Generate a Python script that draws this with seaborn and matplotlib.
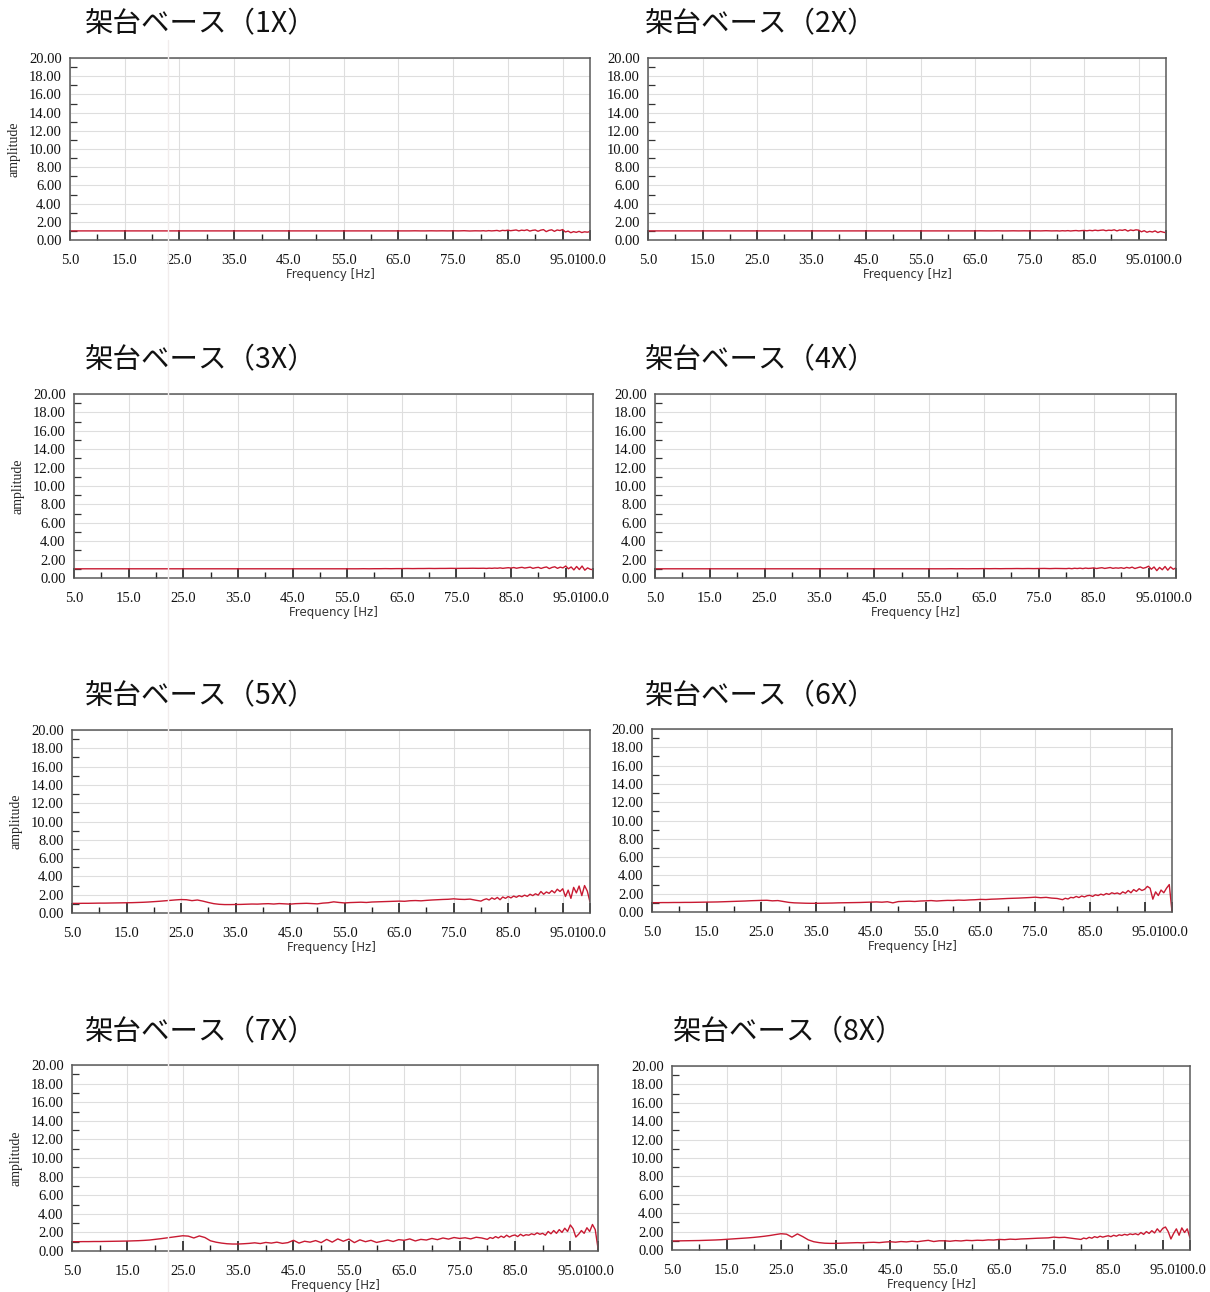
#Libraries
import numpy as np
import seaborn as sns
import matplotlib.pyplot as plt
from matplotlib.ticker import FixedLocator, FixedFormatter
from matplotlib.lines import Line2D

#Data
#frequency grid: 1 Hz steps up to 79 Hz, then 0.5 Hz steps to 100 Hz
freq = np.concatenate([np.arange(5, 80, 1.0), np.arange(80, 100.01, 0.5)])

titles = ["架台ベース（1X）", "架台ベース（2X）", "架台ベース（3X）", "架台ベース（4X）",
          "架台ベース（5X）", "架台ベース（6X）", "架台ベース（7X）", "架台ベース（8X）"]

amp_1x = [1.00, 1.00, 1.00, 1.00, 1.00, 1.00, 1.00, 1.00, 1.00, 1.00,
          1.00, 1.00, 1.00, 1.00, 1.00, 1.00, 1.00, 1.00, 1.00, 1.00,
          1.00, 1.00, 1.00, 1.00, 1.00, 1.00, 1.00, 1.00, 1.00, 1.00,
          1.00, 1.00, 1.00, 1.00, 1.00, 1.00, 1.00, 1.00, 1.00, 1.00,
          1.00, 1.00, 1.00, 1.00, 1.00, 1.00, 1.00, 1.00, 1.00, 1.00,
          1.00, 1.00, 1.00, 1.00, 1.00, 1.00, 1.00, 1.00, 1.00, 1.00,
          1.00, 1.00, 1.00, 1.01, 1.00, 1.00, 1.01, 1.00, 1.01, 1.00,
          1.01, 1.00, 1.02, 0.99, 1.01,
          1.00, 1.02, 0.99, 1.03, 1.00, 1.02, 1.05, 0.98, 1.06, 1.03,
          1.08, 1.02, 1.06, 1.10, 1.00, 1.08, 1.04, 1.12, 0.98, 1.06,
          1.10, 0.96, 1.08, 1.14, 0.92, 1.06, 1.12, 0.95, 1.10, 1.04,
          1.15, 0.88, 0.98, 0.80, 0.92, 0.84, 0.95, 0.82, 0.90, 0.86,
          0.92]

amp_2x = [1.00, 1.00, 1.00, 1.00, 1.00, 1.00, 1.00, 1.00, 1.00, 1.00,
          1.00, 1.00, 1.00, 1.00, 1.00, 1.00, 1.00, 1.00, 1.00, 1.00,
          1.00, 1.00, 1.00, 1.00, 1.00, 1.00, 1.00, 1.00, 1.00, 1.00,
          1.00, 1.00, 1.00, 1.00, 1.00, 1.00, 1.00, 1.00, 1.00, 1.00,
          1.00, 1.00, 1.00, 1.00, 1.00, 1.00, 1.00, 1.00, 1.00, 1.00,
          1.00, 1.00, 1.00, 1.00, 1.00, 1.00, 1.00, 1.00, 1.00, 1.00,
          1.00, 1.01, 1.00, 1.00, 1.01, 1.00, 1.00, 1.01, 1.00, 1.01,
          1.00, 1.01, 1.00, 1.02, 1.00,
          1.01, 0.99, 1.02, 1.00, 1.03, 0.99, 1.02, 1.04, 1.00, 1.03,
          1.05, 1.01, 1.06, 1.02, 1.08, 1.03, 1.07, 1.10, 1.02, 1.08,
          1.05, 1.12, 1.00, 1.10, 1.06, 1.14, 0.98, 1.10, 1.04, 1.12,
          1.08, 0.90, 1.02, 0.85, 0.95, 0.88, 1.00, 0.82, 0.94, 0.86,
          0.80]

amp_3x = [1.00, 1.00, 1.00, 1.00, 1.00, 1.00, 1.00, 1.00, 1.00, 1.00,
          1.00, 1.00, 1.00, 1.00, 1.00, 1.00, 1.00, 1.00, 1.00, 1.00,
          1.00, 1.00, 1.00, 1.00, 1.00, 1.00, 1.00, 1.00, 1.00, 1.00,
          1.00, 1.00, 1.00, 1.00, 1.00, 1.00, 1.00, 1.00, 1.00, 1.00,
          1.00, 1.00, 1.00, 1.00, 1.00, 1.00, 1.00, 1.00, 1.00, 1.00,
          1.00, 1.00, 1.00, 1.01, 1.00, 1.01, 1.01, 1.02, 1.01, 1.02,
          1.02, 1.03, 1.02, 1.03, 1.03, 1.04, 1.03, 1.04, 1.04, 1.05,
          1.04, 1.05, 1.05, 1.06, 1.05,
          1.06, 1.04, 1.07, 1.05, 1.08, 1.06, 1.10, 1.05, 1.09, 1.12,
          1.08, 1.14, 1.06, 1.12, 1.16, 1.08, 1.13, 1.18, 1.05, 1.12,
          1.16, 1.04, 1.14, 1.20, 1.02, 1.15, 1.22, 1.05, 1.18, 1.10,
          1.30, 1.00, 1.20, 0.88, 1.25, 0.92, 1.30, 0.85, 1.10, 0.95,
          0.90]

amp_4x = [1.00, 1.00, 1.00, 1.00, 1.00, 1.00, 1.00, 1.00, 1.00, 1.00,
          1.00, 1.00, 1.00, 1.00, 1.00, 1.00, 1.00, 1.00, 1.00, 1.00,
          1.00, 1.00, 1.00, 1.00, 1.00, 1.00, 1.00, 1.00, 1.00, 1.00,
          1.00, 1.00, 1.00, 1.00, 1.00, 1.00, 1.00, 1.00, 1.00, 1.00,
          1.00, 1.00, 1.00, 1.00, 1.00, 1.00, 1.00, 1.00, 1.00, 1.00,
          1.00, 1.00, 1.00, 1.00, 1.01, 1.00, 1.01, 1.00, 1.01, 1.01,
          1.02, 1.01, 1.02, 1.01, 1.02, 1.02, 1.03, 1.02, 1.03, 1.02,
          1.03, 1.04, 1.02, 1.04, 1.03,
          1.02, 1.05, 1.01, 1.06, 1.03, 1.07, 1.02, 1.08, 1.04, 1.06,
          1.10, 1.03, 1.08, 1.12, 1.04, 1.09, 1.14, 1.05, 1.10, 1.07,
          1.12, 1.04, 1.15, 1.08, 1.18, 1.03, 1.12, 1.20, 1.06, 1.14,
          1.28, 0.95, 1.20, 0.80, 1.15, 0.90, 1.25, 0.85, 1.20, 0.95,
          1.10]

amp_5x = [1.05, 1.05, 1.06, 1.06, 1.07, 1.08, 1.08, 1.09, 1.10, 1.11,
          1.12, 1.13, 1.15, 1.17, 1.20, 1.24, 1.28, 1.33, 1.38, 1.43,
          1.47, 1.45, 1.35, 1.42, 1.30, 1.15, 1.02, 0.95, 0.92, 0.92,
          0.93, 0.94, 0.96, 0.98, 0.97, 1.00, 1.02, 0.98, 1.03, 1.00,
          0.97, 1.02, 1.04, 1.06, 1.03, 1.00, 1.08, 1.12, 1.22, 1.15,
          1.10, 1.14, 1.16, 1.18, 1.15, 1.20, 1.22, 1.24, 1.26, 1.28,
          1.30, 1.28, 1.34, 1.36, 1.33, 1.38, 1.42, 1.45, 1.48, 1.50,
          1.55, 1.50, 1.48, 1.52, 1.40,
          1.30, 1.45, 1.55, 1.42, 1.65, 1.50, 1.70, 1.45, 1.75, 1.60,
          1.80, 1.65, 1.85, 1.72, 1.90, 1.78, 1.95, 1.82, 2.05, 1.90,
          2.10, 1.95, 2.35, 2.05, 2.30, 2.15, 2.45, 2.20, 2.60, 2.35,
          2.65, 1.80, 2.50, 1.60, 2.80, 2.20, 2.95, 1.90, 3.00, 2.40,
          1.20]

amp_6x = [1.02, 1.02, 1.03, 1.03, 1.04, 1.04, 1.05, 1.05, 1.06, 1.07,
          1.08, 1.09, 1.10, 1.12, 1.14, 1.16, 1.18, 1.20, 1.23, 1.25,
          1.27, 1.28, 1.22, 1.25, 1.15, 1.05, 1.00, 0.98, 0.96, 0.95,
          0.95, 0.96, 0.97, 0.98, 1.00, 1.01, 1.02, 1.03, 1.04, 1.06,
          1.08, 1.10, 1.07, 1.12, 1.00, 1.14, 1.16, 1.18, 1.15, 1.20,
          1.22, 1.25, 1.20, 1.24, 1.27, 1.26, 1.30, 1.28, 1.32, 1.34,
          1.38, 1.36, 1.40, 1.42, 1.45, 1.48, 1.50, 1.52, 1.55, 1.58,
          1.62, 1.56, 1.60, 1.52, 1.48,
          1.35, 1.50, 1.42, 1.60, 1.55, 1.70, 1.58, 1.75, 1.65, 1.78,
          1.82, 1.70, 1.88, 1.80, 1.95, 1.85, 2.02, 1.92, 2.10, 2.00,
          2.08, 1.95, 2.20, 2.05, 2.35, 2.10, 2.45, 2.25, 2.55, 2.35,
          2.48, 2.80, 2.60, 1.40, 2.20, 1.80, 2.40, 2.10, 2.60, 3.00,
          0.05]

amp_7x = [1.00, 1.00, 1.01, 1.01, 1.02, 1.02, 1.03, 1.04, 1.05, 1.06,
          1.07, 1.09, 1.11, 1.14, 1.18, 1.25, 1.32, 1.40, 1.48, 1.56,
          1.64, 1.60, 1.40, 1.62, 1.45, 1.10, 0.95, 0.85, 0.78, 0.75,
          0.75, 0.78, 0.82, 0.88, 0.80, 0.92, 0.85, 0.95, 0.82, 0.90,
          1.15, 0.85, 1.05, 0.95, 1.12, 0.90, 1.25, 0.95, 1.30, 1.05,
          1.28, 0.90, 1.20, 1.00, 1.15, 0.92, 1.05, 1.18, 1.02, 1.22,
          1.15, 1.30, 1.08, 1.25, 1.18, 1.35, 1.22, 1.40, 1.28, 1.45,
          1.35, 1.42, 1.30, 1.48, 1.40,
          1.25, 1.45, 1.35, 1.55, 1.40, 1.60, 1.45, 1.70, 1.50, 1.65,
          1.72, 1.55, 1.80, 1.62, 1.75, 1.70, 1.85, 1.75, 1.95, 1.80,
          1.90, 1.70, 2.10, 1.85, 2.20, 1.90, 2.30, 2.00, 2.45, 2.10,
          2.80, 2.40, 1.50, 1.80, 2.20, 1.90, 2.50, 2.10, 2.85, 2.30,
          0.30]

amp_8x = [0.98, 0.99, 1.00, 1.01, 1.02, 1.03, 1.05, 1.07, 1.09, 1.12,
          1.16, 1.20, 1.24, 1.28, 1.32, 1.37, 1.43, 1.50, 1.58, 1.68,
          1.77, 1.72, 1.40, 1.75, 1.45, 1.10, 0.90, 0.80, 0.74, 0.72,
          0.72, 0.74, 0.76, 0.78, 0.80, 0.78, 0.82, 0.84, 0.80, 0.86,
          0.90, 0.85, 0.92, 0.88, 0.95, 0.90, 0.98, 1.05, 0.92, 1.00,
          1.00, 0.95, 1.02, 0.98, 1.05, 1.02, 1.06, 1.04, 1.10, 1.08,
          1.15, 1.12, 1.18, 1.15, 1.20, 1.22, 1.25, 1.28, 1.30, 1.32,
          1.40, 1.35, 1.38, 1.30, 1.22,
          1.15, 1.30, 1.22, 1.38, 1.28, 1.45, 1.35, 1.50, 1.40, 1.48,
          1.55, 1.45, 1.60, 1.50, 1.65, 1.58, 1.70, 1.62, 1.75, 1.68,
          1.77, 1.65, 1.90, 1.70, 2.00, 1.80, 2.10, 1.85, 2.30, 1.95,
          2.35, 2.50, 2.00, 1.20, 1.80, 2.30, 1.60, 2.40, 1.90, 2.30,
          1.30]

amps = [amp_1x, amp_2x, amp_3x, amp_4x, amp_5x, amp_6x, amp_7x, amp_8x]

#Layout (pixel boxes: left, top, right, bottom) and title anchors
W, H = 1210, 1292
boxes = [(70, 58, 590, 240), (648, 58, 1166, 240),
         (74, 394, 593, 578), (655, 394, 1176, 578),
         (72, 730, 590, 913), (652, 729, 1172, 912),
         (72, 1065, 598, 1251), (672, 1066, 1190, 1250)]
title_pos = [(85, 24), (645, 24), (85, 360), (645, 360),
             (85, 696), (645, 696), (85, 1032), (673, 1032)]

xticks = [5, 15, 25, 35, 45, 55, 65, 75, 85, 95, 100]
xlabels = ["5.0", "15.0", "25.0", "35.0", "45.0", "55.0", "65.0", "75.0", "85.0", "95.0", "100.0"]
yticks = [0, 2, 4, 6, 8, 10, 12, 14, 16, 18, 20]
ylabels = ["%.2f" % v for v in yticks]

#Style
sns.set_style("white")
plt.rcParams['font.family'] = ['Liberation Serif', 'DejaVu Serif']

line_color = "#c81a32"
grid_color = "#dedede"
frame_color = "#5a5a5a"

fig = plt.figure(figsize=(W / 100, H / 100), dpi=100)

for i, (box, vals) in enumerate(zip(boxes, amps)):
    l, t, r, b = box
    ax = fig.add_axes([l / W, 1 - b / H, (r - l) / W, (b - t) / H])
    sns.lineplot(x=freq, y=vals, ax=ax, color=line_color, linewidth=1.0)

    ax.set_xlim(5, 100)
    ax.set_ylim(0, 20)

    ax.xaxis.set_major_locator(FixedLocator(xticks))
    ax.xaxis.set_major_formatter(FixedFormatter(xlabels))
    ax.xaxis.set_minor_locator(FixedLocator([10, 20, 30, 40, 50, 60, 70, 80, 90]))
    ax.yaxis.set_major_locator(FixedLocator(yticks))
    ax.yaxis.set_major_formatter(FixedFormatter(ylabels))
    ax.yaxis.set_minor_locator(FixedLocator([1, 3, 5, 7, 9, 11, 13, 15, 17, 19]))

    ax.tick_params(axis="x", which="major", direction="in", length=7, width=1.2,
                   color="#222222", labelsize=10.5, pad=10, bottom=True,
                   labelcolor="#111111")
    ax.tick_params(axis="x", which="minor", direction="in", length=4, width=1.0,
                   color="#222222", bottom=True)
    ax.tick_params(axis="y", which="major", direction="in", length=0,
                   labelsize=10.5, pad=6, left=True, labelcolor="#111111")
    ax.tick_params(axis="y", which="minor", direction="in", length=5, width=0.9,
                   color="#333333", left=True)

    ax.grid(True, which="major", color=grid_color, linewidth=0.8)
    ax.set_axisbelow(True)
    for s in ax.spines.values():
        s.set_color(frame_color)
        s.set_linewidth(1.1)

    ax.set_xlabel("Frequency [Hz]", family=["DejaVu Sans"], fontsize=8.5,
                  labelpad=1, color="#333333")
    if i % 2 == 0:
        ax.set_ylabel("amplitude", fontsize=10, labelpad=6)
    else:
        ax.set_ylabel("")

    tx, ty = title_pos[i]
    fig.text(tx / W, 1 - ty / H, titles[i], family=["Noto Sans CJK JP", "DejaVu Sans"],
             fontsize=20.5, va="center", ha="left", color="#111111")

#faint scan line running down the left column
fig.add_artist(Line2D([168 / W, 168 / W], [1 - 40 / H, 0.0], transform=fig.transFigure,
                      color="#f1ecec", linewidth=1.0))

fig.savefig("out.png", dpi=100, facecolor="white")
